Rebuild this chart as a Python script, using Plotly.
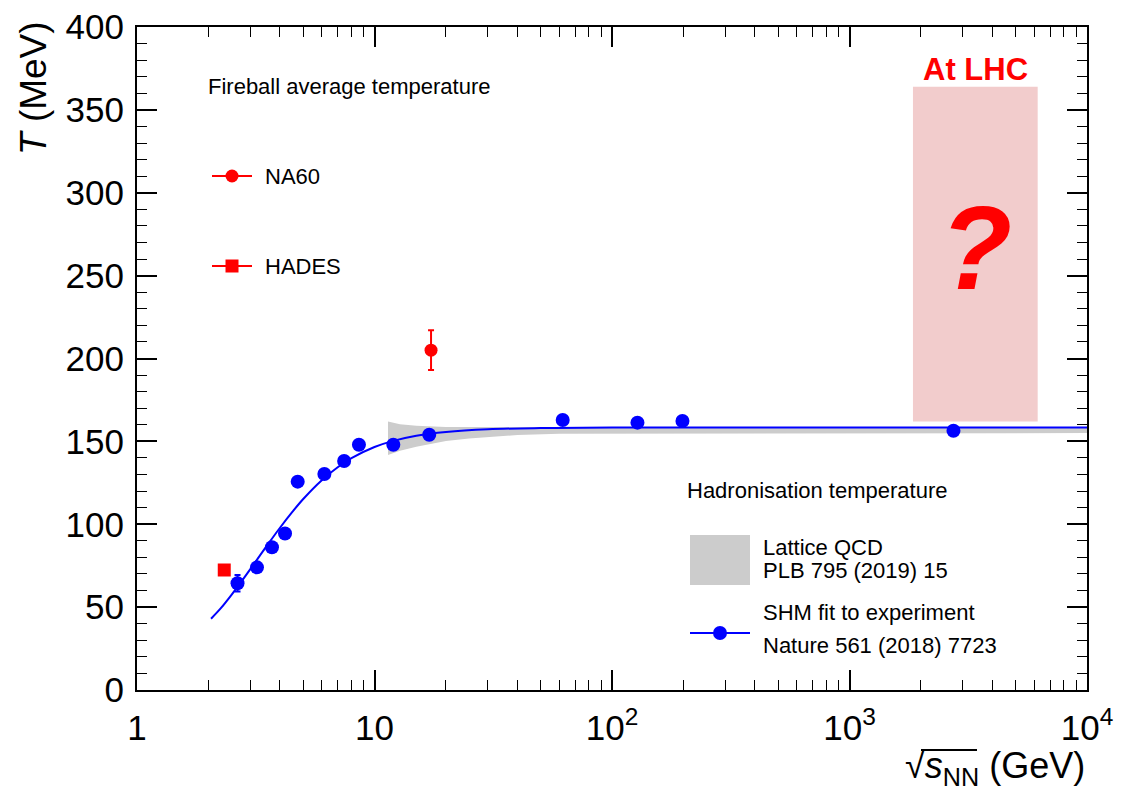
import plotly.graph_objects as go

# ---------------- data ----------------
# SHM fits to experiment (blue points)
shm_sqrt_s = [2.65, 3.2, 3.7, 4.2, 4.75, 6.15, 7.45, 8.6, 12.0, 17.0, 62.0, 128.0, 198.0, 2740.0]
shm_T = [64.4, 74.0, 86.1, 94.4, 125.7, 130.3, 138.2, 148.0, 148.0, 154.0, 162.9, 161.3, 162.3, 156.4]
shm_T_err = [5, 0, 0, 0, 0, 0, 0, 0, 0, 0, 0, 0, 0, 0]

# SHM fit curve (blue line)
fit_sqrt_s = [2.05, 2.25, 2.5, 2.75, 3.0, 3.5, 4.0, 4.5, 5.0, 6.0, 7.0, 8.0, 10.0, 12.0, 15.0,
              20.0, 30.0, 50.0, 100.0, 1000.0, 10000.0]
fit_T = [43.0, 49.2, 57.4, 65.4, 72.9, 86.5, 97.9, 107.3, 115.1, 126.6, 134.4, 139.9, 146.6,
         150.3, 153.4, 155.7, 157.3, 158.0, 158.3, 158.4, 158.4]

# Lattice QCD band (grey)
lqcd_sqrt_s = [11.4, 12.8, 15.0, 17.0, 20.0, 25.0, 30.0, 40.0, 60.0, 100.0, 300.0, 1000.0, 10000.0]
lqcd_T_hi = [162.0, 160.3, 159.4, 158.9, 158.7, 158.6, 158.6, 158.6, 158.6, 158.6, 158.6, 158.6, 158.6]
lqcd_T_lo = [141.8, 144.3, 146.8, 148.3, 150.3, 151.8, 152.8, 153.8, 154.6, 155.0, 155.0, 155.0, 155.0]

# Fireball average temperature
na60_sqrt_s = [17.3]
na60_T = [205.0]
na60_T_err = [12.0]
hades_sqrt_s = [2.33]
hades_T = [72.4]

# "At LHC" region
lhc_sqrt_s = [1850.0, 6200.0]
lhc_T = [162.0, 364.0]

x_tickvals = [1, 10, 100, 1000, 10000]
x_ticktext = ["1", "10", "10<sup>2</sup>", "10<sup>3</sup>", "10<sup>4</sup>"]
x_minor = [m * d for d in [1, 10, 100, 1000] for m in range(2, 10)]
y_tickvals = list(range(0, 401, 50))

BLUE = "#0000ff"
RED = "#ff0000"
GREY = "#cccccc"
PINK = "#f2cccc"
FONT = "Liberation Sans, Arial, sans-serif"

# plot-area pixel geometry
L, R, T, B = 137, 1087, 27, 690
W, H = R - L, B - T


def px(x):
    return (x - L) / W


def py(y):
    return (B - y) / H


fig = go.Figure()

# LHC box
fig.add_trace(go.Scatter(
    x=[lhc_sqrt_s[0], lhc_sqrt_s[1], lhc_sqrt_s[1], lhc_sqrt_s[0], lhc_sqrt_s[0]],
    y=[lhc_T[0], lhc_T[0], lhc_T[1], lhc_T[1], lhc_T[0]],
    fill="toself", fillcolor=PINK, line=dict(width=0), mode="lines",
    hoverinfo="skip", showlegend=False))

# Lattice band
fig.add_trace(go.Scatter(
    x=lqcd_sqrt_s + lqcd_sqrt_s[::-1],
    y=lqcd_T_hi + lqcd_T_lo[::-1],
    fill="toself", fillcolor=GREY, line=dict(width=0), mode="lines",
    hoverinfo="skip", showlegend=False))

# fit curve
fig.add_trace(go.Scatter(
    x=fit_sqrt_s, y=fit_T, mode="lines",
    line=dict(color=BLUE, width=2, shape="spline"), showlegend=False))

# SHM points
fig.add_trace(go.Scatter(
    x=shm_sqrt_s, y=shm_T, mode="markers",
    marker=dict(color=BLUE, size=14, symbol="circle"),
    error_y=dict(type="data", array=shm_T_err, color=BLUE, thickness=2, width=3),
    showlegend=False))

# HADES
fig.add_trace(go.Scatter(
    x=hades_sqrt_s, y=hades_T, mode="markers",
    marker=dict(color=RED, size=13, symbol="square"), showlegend=False))

# NA60
fig.add_trace(go.Scatter(
    x=na60_sqrt_s, y=na60_T, mode="markers",
    marker=dict(color=RED, size=13, symbol="circle"),
    error_y=dict(type="data", array=na60_T_err, color=RED, thickness=2, width=3),
    showlegend=False))

# ---------------- custom legends on an overlay axis (0..1 = paper) ----------------
leg_lines = [
    (212, 252, 176, RED, "circle", 13),
    (212, 252, 266, RED, "square", 13),
    (690, 750, 633, BLUE, "circle", 14),
]
for x0, x1, yy, col, sym, sz in leg_lines:
    fig.add_trace(go.Scatter(
        x=[px(x0), px(x1)], y=[py(yy), py(yy)], mode="lines",
        line=dict(color=col, width=2), xaxis="x2", yaxis="y2",
        hoverinfo="skip", showlegend=False))
    fig.add_trace(go.Scatter(
        x=[px((x0 + x1) / 2)], y=[py(yy)], mode="markers",
        marker=dict(color=col, size=sz, symbol=sym), xaxis="x2", yaxis="y2",
        hoverinfo="skip", showlegend=False))
fig.add_trace(go.Scatter(
    x=[px(690), px(750), px(750), px(690), px(690)],
    y=[py(535), py(535), py(585), py(585), py(535)],
    fill="toself", fillcolor=GREY, line=dict(width=0), mode="lines",
    xaxis="x2", yaxis="y2", hoverinfo="skip", showlegend=False))

annotations = []


def txt(text, x, y, size=22, color="black", xanchor="left", yanchor="middle", **kw):
    annotations.append(dict(
        text=text, x=px(x), y=py(y), xref="paper", yref="paper",
        xanchor=xanchor, yanchor=yanchor, showarrow=False,
        font=dict(family=FONT, size=size, color=color), **kw))


txt("Fireball average temperature", 206, 86)
txt("NA60", 263, 176)
txt("HADES", 263, 266)
txt("Hadronisation temperature", 685, 490)
txt("Lattice QCD", 761, 547)
txt("PLB 795 (2019) 15", 761, 570)
txt("SHM fit to experiment", 761, 612)
txt("Nature 561 (2018) 7723", 761, 645)
txt("<b>At LHC</b>", 975, 69, size=31, color=RED, xanchor="center")
txt("<b><i>?</i></b>", 976, 248, size=118, color=RED, xanchor="center")

# axis titles
txt("<i>T</i> (MeV)", 33, 88, size=37, xanchor="center", textangle=-90)
txt("√<i>s</i><sub>NN</sub> (GeV)", 1087, 768, size=36, xanchor="right")

shapes = [
    # vinculum of the square-root sign in the x-axis title
    dict(type="line", xref="paper", yref="paper",
         x0=px(921), x1=px(977), y0=py(750), y1=py(750),
         line=dict(color="black", width=2)),
]

fig.update_layout(
    width=1124, height=794,
    margin=dict(l=L, r=1124 - R, t=T, b=794 - B, autoexpand=False),
    paper_bgcolor="white", plot_bgcolor="white",
    annotations=annotations, shapes=shapes,
    xaxis=dict(
        type="log", range=[0, 4], tickvals=x_tickvals, ticktext=x_ticktext,
        ticks="inside", ticklen=20, tickwidth=1.5, tickcolor="black",
        showline=True, linecolor="black", linewidth=2, mirror="ticks",
        showgrid=False, zeroline=False, automargin=False,
        minor=dict(tickvals=x_minor, ticks="inside", ticklen=10, tickwidth=1.2,
                   tickcolor="black", showgrid=False),
        tickfont=dict(family=FONT, size=35, color="black"), ticklabelstandoff=6),
    yaxis=dict(
        range=[0, 400], tickvals=y_tickvals,
        ticks="inside", ticklen=20, tickwidth=1.5, tickcolor="black",
        showline=True, linecolor="black", linewidth=2, mirror="ticks",
        showgrid=False, zeroline=False, automargin=False,
        minor=dict(dtick=10, ticks="inside", ticklen=10, tickwidth=1.2,
                   tickcolor="black", showgrid=False),
        tickfont=dict(family=FONT, size=35, color="black"), ticklabelstandoff=4),
    xaxis2=dict(overlaying="x", range=[0, 1], visible=False, fixedrange=True),
    yaxis2=dict(overlaying="y", range=[0, 1], visible=False, fixedrange=True),
)

fig.write_html("out.html", config=dict(displayModeBar=False))
